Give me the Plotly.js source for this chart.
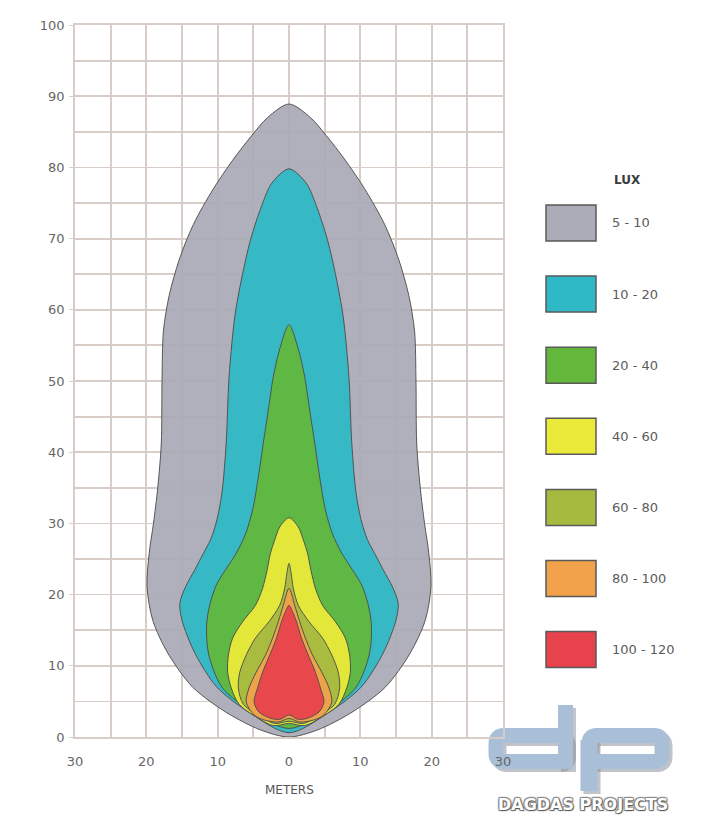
<!DOCTYPE html>
<html>
<head>
<meta charset="utf-8">
<script src="https://cdn.plot.ly/plotly-3.0.1.min.js"></script>
<style>html,body{margin:0;padding:0;background:#fff;}#chart{width:716px;height:839px;}</style>
</head>
<body>
<div id="chart"></div>
<script>
// ---- data ----
const xTickVals = [-30, -20, -10, 0, 10, 20, 30];
const xTickText = ['30', '20', '10', '0', '10', '20', '30'];
const yTickVals = [0, 10, 20, 30, 40, 50, 60, 70, 80, 90, 100];

const zoneLabels = ['5 - 10', '10 - 20', '20 - 40', '40 - 60', '60 - 80', '80 - 100', '100 - 120'];
const zoneColors = ['#abacb7', '#2fb9c6', '#63b83c', '#ebea3a', '#a7ba40', '#f2a24b', '#e8424c'];

// half-widths (m) at distances (m), right side bottom -> top
const grayY = [0, 1.0, 3.4, 7.0, 11.8, 16.4, 21.1, 25.8, 30.0, 35.0, 41.3, 50.0, 57.0, 62.0, 67.0, 72.0, 77.0, 81.0, 84.5, 87.0, 88.9];
const grayW = [0, 4.0, 8.7, 13.5, 17.0, 19.1, 19.9, 19.6, 19.0, 18.4, 17.9, 17.8, 17.6, 16.8, 15.4, 13.4, 10.6, 7.9, 5.2, 3.0, 0];

const cyanY = [0.6, 3.4, 7.0, 11.8, 16.4, 18.8, 21.1, 23.5, 25.8, 27.7, 30.5, 34.3, 41.3, 50.6, 59.0, 64.6, 69.8, 74.7, 77.8, 79.8];
const cyanW = [0, 5.5, 10.1, 13.2, 15.0, 15.3, 14.5, 13.2, 12.0, 11.0, 10.1, 9.4, 8.8, 8.4, 7.6, 6.6, 5.4, 3.8, 2.4, 0];

const greenY = [1.2, 3.4, 7.0, 11.8, 16.4, 21.1, 25.8, 28.5, 31.9, 36.5, 41.3, 45.9, 50.6, 54.5, 57.9];
const greenW = [0, 5.0, 9.4, 11.3, 11.5, 10.3, 7.4, 6.1, 5.1, 4.3, 3.6, 2.9, 2.2, 1.3, 0];

const yellowY = [1.9, 1.6, 2.7, 4.6, 6.9, 9.1, 11.5, 13.9, 16.2, 18.5, 20.9, 23.3, 25.8, 27.7, 29.5, 30.8];
const yellowW = [0, 2.2, 4.4, 7.0, 8.1, 8.6, 8.5, 7.9, 6.5, 4.7, 3.7, 3.1, 2.6, 2.0, 1.3, 0];

const oliveY = [2.2, 1.9, 2.7, 4.6, 6.9, 9.1, 11.5, 13.9, 16.2, 18.5, 20.9, 23.0, 24.4];
const oliveW = [0, 2.0, 3.7, 6.4, 7.1, 6.9, 6.0, 4.7, 2.8, 1.3, 0.6, 0.3, 0];

const orangeY = [2.6, 2.1, 2.4, 3.1, 4.9, 6.9, 9.1, 11.5, 13.9, 16.2, 18.5, 20.9];
const orangeW = [0, 1.5, 3.5, 4.9, 6.0, 5.6, 4.6, 3.3, 2.3, 1.5, 0.8, 0];

const redY = [3.1, 2.5, 2.6, 3.5, 4.9, 6.9, 9.1, 11.5, 13.9, 16.2, 17.6, 18.5];
const redW = [0, 1.2, 2.5, 4.2, 4.9, 4.4, 3.7, 2.7, 1.75, 1.05, 0.5, 0];

const zonesY = [grayY, cyanY, greenY, yellowY, oliveY, orangeY, redY];
const zonesW = [grayW, cyanW, greenW, yellowW, oliveW, orangeW, redW];

// ---- build closed symmetric outlines ----
function outline(w, y) {
  const xs = [], ys = [];
  for (let i = 0; i < w.length; i++) { xs.push(w[i]); ys.push(y[i]); }
  for (let i = w.length - 2; i >= 0; i--) { xs.push(-w[i]); ys.push(y[i]); }
  return { xs, ys };
}

const traces = zonesY.map((y, k) => {
  const o = outline(zonesW[k], y);
  return {
    type: 'scatter', mode: 'lines', x: o.xs, y: o.ys,
    fill: 'toself', fillcolor: zoneColors[k],
    line: { color: '#4d4d4d', width: 1, shape: 'spline', smoothing: 0.85 },
    hoverinfo: 'skip', showlegend: false, name: zoneLabels[k], opacity: 0.94
  };
});

// ---- layout helpers (pixel -> paper) ----
const L = 75, R = 503, T = 25, B = 737;
const px = v => (v - L) / (R - L);
const py = v => (B - v) / (B - T);

const shapes = [];
const annotations = [];

// legend
const legTop0 = 205, legStep = 71.1, legH = 36;
zoneLabels.forEach((lab, i) => {
  const t = legTop0 + i * legStep;
  shapes.push({ type: 'rect', xref: 'paper', yref: 'paper',
    x0: px(546), x1: px(596), y0: py(t + legH), y1: py(t),
    fillcolor: zoneColors[i], line: { color: '#5a5a5a', width: 1.5 } });
  annotations.push({ xref: 'paper', yref: 'paper', x: px(610), y: py(t + legH / 2),
    xanchor: 'left', yanchor: 'middle', showarrow: false, text: lab,
    font: { family: 'DejaVu Sans', size: 13, color: '#5c5c5c' } });
});
annotations.push({ xref: 'paper', yref: 'paper', x: px(627), y: py(180),
  xanchor: 'center', yanchor: 'middle', showarrow: false, text: '<b>LUX</b>',
  font: { family: 'DejaVu Sans', size: 12, color: '#3a3a3a' } });

annotations.push({ xref: 'paper', yref: 'paper', x: 0.5, y: py(790),
  xanchor: 'center', yanchor: 'middle', showarrow: false, text: 'METERS',
  font: { family: 'DejaVu Sans', size: 12, color: '#555' } });

// watermark "dp"
function rr(x0, y0, x1, y1, r) {
  const P = (a, b) => px(a) + ',' + py(b);
  return 'M' + P(x0 + r, y0) + ' L' + P(x1 - r, y0) + ' Q' + P(x1, y0) + ' ' + P(x1, y0 + r) +
    ' L' + P(x1, y1 - r) + ' Q' + P(x1, y1) + ' ' + P(x1 - r, y1) +
    ' L' + P(x0 + r, y1) + ' Q' + P(x0, y1) + ' ' + P(x0, y1 - r) +
    ' L' + P(x0, y0 + r) + ' Q' + P(x0, y0) + ' ' + P(x0 + r, y0) + ' Z';
}
function logo(dx, dy, color, op) {
  const s = { xref: 'paper', yref: 'paper', layer: 'below', opacity: op };
  shapes.push(Object.assign({ type: 'path', path: rr(496 + dx, 735.5 + dy, 565.5 + dx, 761.5 + dy, 8),
    line: { color: color, width: 15 } }, s));
  shapes.push(Object.assign({ type: 'rect', x0: px(558 + dx), x1: px(573 + dx), y0: py(769 + dy), y1: py(705 + dy),
    fillcolor: color, line: { width: 0 } }, s));
  shapes.push(Object.assign({ type: 'path', path: rr(589 + dx, 735.5 + dy, 662 + dx, 761.5 + dy, 8),
    line: { color: color, width: 15 } }, s));
  shapes.push(Object.assign({ type: 'rect', x0: px(580.5 + dx), x1: px(597.5 + dx), y0: py(791 + dy), y1: py(740 + dy),
    fillcolor: color, line: { width: 0 } }, s));
}
logo(3, 3, '#8e939a', 0.55);
logo(0, 0, '#a8bfd7', 1);

annotations.push({ xref: 'paper', yref: 'paper', x: px(583), y: py(805),
  xanchor: 'center', yanchor: 'middle', showarrow: false, text: '<b>DAGDAS PROJECTS</b>',
  font: { family: 'DejaVu Sans', size: 16, color: '#ffffff', shadow: '1px 1px 1px #555, -1px -1px 1px #888, 1px -1px 1px #888, -1px 1px 1px #888' } });

const minorX = [];
for (let i = 0; i < xTickVals.length - 1; i++) minorX.push((xTickVals[i] + xTickVals[i + 1]) / 2);

const gridC = '#d8ccc7';
const layout = {
  width: 716, height: 839, autosize: false,
  margin: { l: L, r: 716 - R, t: T, b: 839 - B, pad: 0 },
  paper_bgcolor: '#ffffff', plot_bgcolor: 'rgba(0,0,0,0)',
  showlegend: false,
  xaxis: {
    range: [-30, 30], tickmode: 'array', tickvals: xTickVals, ticktext: xTickText,
    showgrid: true, gridcolor: gridC, gridwidth: 1.8, zeroline: false,
    showline: true, linecolor: gridC, linewidth: 1.8, mirror: true,
    minor: { tickmode: 'array', tickvals: minorX, showgrid: true, gridcolor: gridC, gridwidth: 1.8, ticks: '' },
    ticks: '', ticklabelstandoff: 12,
    tickfont: { family: 'DejaVu Sans', size: 13, color: '#666' }, fixedrange: true
  },
  yaxis: {
    range: [0, 100], tickmode: 'array', tickvals: yTickVals,
    showgrid: true, gridcolor: gridC, gridwidth: 1.8, zeroline: false,
    showline: true, linecolor: gridC, linewidth: 1.8, mirror: true,
    minor: { dtick: 5, showgrid: true, gridcolor: gridC, gridwidth: 1.8, ticks: '' },
    ticks: 'outside', ticklen: 4, tickcolor: gridC, ticklabelstandoff: 2,
    tickfont: { family: 'DejaVu Sans', size: 13, color: '#666' }, fixedrange: true
  },
  shapes: shapes,
  annotations: annotations
};

Plotly.newPlot('chart', traces, layout, { staticPlot: true, displayModeBar: false });
</script>
</body>
</html>
